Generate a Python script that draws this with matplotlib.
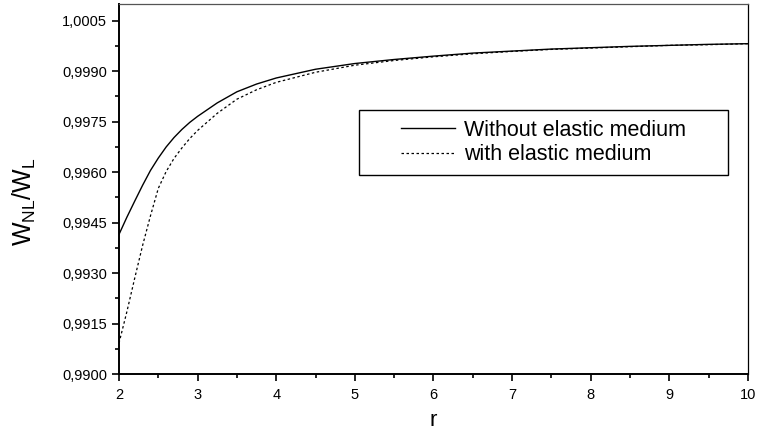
import numpy as np
import matplotlib.pyplot as plt
from matplotlib.ticker import FuncFormatter, MultipleLocator
from matplotlib.patches import Rectangle

plt.rcParams['font.family'] = ['Liberation Sans', 'DejaVu Sans']

r = [2.0, 2.1, 2.2, 2.3, 2.4, 2.5, 2.6, 2.7, 2.8, 2.9, 3.0, 3.25, 3.5, 3.75,
     4.0, 4.5, 5.0, 5.5, 6.0, 6.5, 7.0, 7.5, 8.0, 8.5, 9.0, 9.5, 10.0]

# W_NL/W_L without elastic medium
sans_milieu = [0.99415, 0.99466, 0.99514, 0.99561, 0.99605, 0.99642, 0.99675,
               0.99703, 0.99727, 0.99748, 0.99766, 0.99806, 0.99839, 0.99862,
               0.99880, 0.99906, 0.99923, 0.99935, 0.99945, 0.99954, 0.99960,
               0.99966, 0.99970, 0.99974, 0.99977, 0.99980, 0.99982]

# W_NL/W_L with elastic medium
avec_milieu = [0.99092, 0.99185, 0.99285, 0.99382, 0.99470, 0.99552, 0.99602,
               0.99641, 0.99672, 0.99700, 0.99724, 0.99775, 0.99817, 0.99845,
               0.99867, 0.99897, 0.99918, 0.99932, 0.99943, 0.99952, 0.99959,
               0.99965, 0.99969, 0.99973, 0.99977, 0.99979, 0.99982]

labels = ['Without elastic medium', 'with elastic medium']

fig = plt.figure(figsize=(7.57, 4.38), dpi=100)
ax = fig.add_axes([0.1572, 0.1461, 0.8308, 0.8448])

ax.plot(r, sans_milieu, color='black', linewidth=1.0, label=labels[0])
ax.plot(r, avec_milieu, color='black', linewidth=0.9, linestyle=(0, (2, 2)),
        label=labels[1])

ax.set_xlim(2, 10)
ax.set_ylim(0.9900, 1.0010)
ax.xaxis.set_major_locator(MultipleLocator(1))
ax.xaxis.set_minor_locator(MultipleLocator(0.5))
ax.set_yticks(np.arange(0.9900, 1.0006, 0.0015))
ax.yaxis.set_minor_locator(MultipleLocator(0.00075))
ax.yaxis.set_major_formatter(FuncFormatter(lambda v, p: f'{v:.4f}'.replace('.', ',')))

ax.tick_params(which='both', direction='out', top=False, right=False,
               labelsize=10.5, width=1.2)
ax.tick_params(which='major', length=5)
ax.tick_params(which='minor', length=3)
ax.tick_params(axis='x', pad=5)

for s in ['left', 'bottom']:
    ax.spines[s].set_linewidth(1.4)
for s in ['top', 'right']:
    ax.spines[s].set_linewidth(0.9)
ax.spines['top'].set_color('#555555')

ax.set_xlabel('r', fontsize=16, labelpad=6)
ax.set_ylabel(r'$\mathregular{W_{NL}/W_L}$', fontsize=18)
ax.yaxis.set_label_coords(-0.128, 0.467)

ax.add_patch(Rectangle((0.3816, 0.538), 0.5864, 0.1755, transform=ax.transAxes,
                       facecolor='white', edgecolor='black', linewidth=1.0,
                       zorder=3))
ax.legend(loc='center', bbox_to_anchor=(0.675, 0.6257), frameon=False,
          fontsize=15.5, handlelength=2.5, handletextpad=0.45,
          labelspacing=0.15, borderpad=0.2).set_zorder(4)

fig.savefig('out.png', dpi=100)
